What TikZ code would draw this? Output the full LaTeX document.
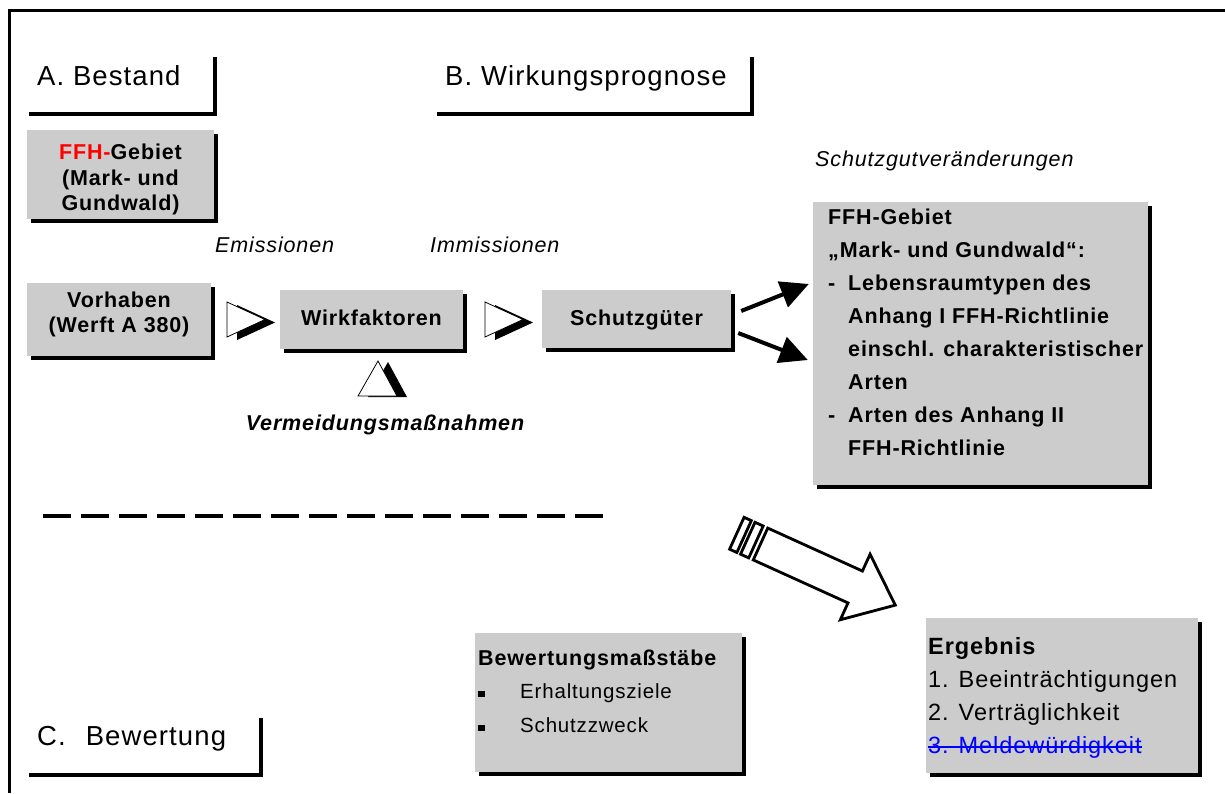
\documentclass[tikz,border=0pt]{standalone}
\usepackage{fontspec}
\setmainfont{Liberation Sans}[LetterSpace=4]
\usetikzlibrary{arrows.meta,shadows}
\definecolor{boxgray}{RGB}{204,204,204}
\definecolor{ffhred}{RGB}{255,0,0}
\definecolor{strikeblue}{RGB}{0,0,255}
\newcommand{\lstdash}{\makebox[20pt][l]{-}}
\newcommand{\lstind}{\hspace*{20pt}}
\newcommand{\sqbullet}{\makebox[42pt][l]{\rule[1pt]{6.5pt}{6.5pt}}}
\tikzset{
        box/.style={fill=boxgray, inner sep=0pt, drop shadow={fill=black, opacity=1, shadow xshift=4pt, shadow yshift=-4pt}},
        btxt/.style={font=\bfseries\fontsize{21.5}{25.5}\selectfont, inner sep=0pt, align=center},
        ltxt/.style={font=\bfseries\fontsize{21.5}{33}\selectfont, inner sep=0pt, align=left},
        rtxt/.style={font=\fontsize{20.5}{24}\selectfont, inner sep=0pt},
        etxt/.style={font=\fontsize{23.5}{26}\selectfont, inner sep=0pt},
        itxt/.style={font=\itshape\fontsize{21.5}{24}\selectfont, inner sep=0pt},
        htxt/.style={font=\fontsize{27.5}{30}\selectfont, inner sep=0pt, anchor=base west},
        hline/.style={line width=3.5pt},
        fatarrow/.style={line width=4pt, -{Triangle[length=28pt,width=27pt]}},
        dashline/.style={line width=4pt, dash pattern=on 28pt off 10pt}
    }
\newcommand{\openhead}[1]{%
  \fill[black] ([shift={(-9,-14.5)}]#1) -- ([shift={(29,3)}]#1) -- ([shift={(-9,20.5)}]#1) -- cycle;
  \filldraw[fill=white, draw=black, line width=0.8pt] ([shift={(-19,-17.5)}]#1) -- ([shift={(19,0)}]#1) -- ([shift={(-19,17.5)}]#1) -- cycle;}

\begin{document}
\begin{tikzpicture}[x=1pt,y=-1pt]
            \useasboundingbox (0,0) rectangle (1225,793);
            \draw[line width=3pt] (9,793) -- (9,10) -- (1225,10);

            % headings
            \node[htxt] (hA) at (37,85) {A. Bestand};
            \node[htxt] (hB) at (445,85) {B. Wirkungsprognose};
            \node[htxt] (hC) at (37,745) {C.\hspace{20pt}Bewertung};
            \draw[hline] (29,114) -| (215,57);
            \draw[hline] (437,114) -| (752,57);
            \draw[hline] (29,775) -| (261,718);

            % boxes
            \node[box, minimum width=187pt, minimum height=89pt] (ffh) at (120.5,174.5) {};
            \node[box, minimum width=184pt, minimum height=73pt] (vorhaben) at (119,319.5) {};
            \node[box, minimum width=183pt, minimum height=59pt] (wirk) at (371.5,319.5) {};
            \node[box, minimum width=189pt, minimum height=58pt] (sg) at (636.5,319) {};
            \node[box, minimum width=335pt, minimum height=283pt] (schutz) at (980.5,343.5) {};
            \node[box, minimum width=267pt, minimum height=139pt] (bewert) at (608.5,702.5) {};
            \node[box, minimum width=272pt, minimum height=155pt] (ergebnis) at (1062,695.5) {};

            \node[btxt, anchor=north] (ffhtxt) at (120.5,144) {\textcolor{ffhred}{FFH-}Gebiet\\(Mark- und\\Gundwald)};
            \node[btxt, anchor=north] (vortxt) at (119,291.5) {Vorhaben\\(Werft A 380)};
            \node[btxt, anchor=base] (wirktxt) at (371.5,325.5) {Wirkfaktoren};
            \node[btxt, anchor=base] (sgtxt) at (636.5,325.5) {Schutzgüter};
            \node[ltxt, anchor=north west] (schutztxt) at (828,209) {FFH-Gebiet\\„Mark- und Gundwald“:\\\lstdash Lebensraumtypen des\\\lstind Anhang I FFH-Richtlinie\\\lstind einschl. charakteristischer\\\lstind Arten\\\lstdash Arten des Anhang II\\\lstind FFH-Richtlinie};

            \node[btxt, anchor=base west] (bewhd) at (478,665) {Bewertungsmaßstäbe};
            \node[rtxt, anchor=base west] (bew1) at (478,698) {\sqbullet Erhaltungsziele};
            \node[rtxt, anchor=base west] (bew2) at (478,732) {\sqbullet Schutzzweck};

            \node[etxt, font=\bfseries\fontsize{23.5}{26}\selectfont, anchor=base west] (erg0) at (928,654) {Ergebnis};
            \node[etxt, anchor=base west] (erg1) at (928,687) {1. Beeinträchtigungen};
            \node[etxt, anchor=base west] (erg2) at (928,720) {2. Verträglichkeit};
            \node[etxt, text=strikeblue, anchor=base west] (erg3) at (928,753) {3. Meldewürdigkeit};
            \draw[strikeblue, line width=1.5pt] ([shift={(0,-6)}]erg3.base west) -- ([shift={(0,-6)}]erg3.base east);

            % labels
            \node[itxt, anchor=base west] (emis) at (215,252) {Emissionen};
            \node[itxt, anchor=base west] (immis) at (430,252) {Immissionen};
            \node[itxt, anchor=base west] (sgv) at (815,166) {Schutzgutveränderungen};
            \node[btxt, font=\bfseries\itshape\fontsize{21.5}{24}\selectfont, anchor=base] (verm) at (385,430) {Vermeidungsmaßnahmen};

            % open arrow heads
            \coordinate (h1) at (246,319.5);
            \coordinate (h2) at (504,319.5);
            \openhead{h1}
            \openhead{h2}
            \coordinate (vm) at (378,379);
            \fill[black] ([shift={(-10,18)}]vm) -- ([shift={(10,-17)}]vm) -- ([shift={(29,18)}]vm) -- cycle;
            \filldraw[fill=white, draw=black, line width=0.8pt] ([shift={(-20,17)}]vm) -- ([shift={(0,-18)}]vm) -- ([shift={(19,17)}]vm) -- cycle;

            \draw[fatarrow] ([shift={(10,-8)}]sg.east) -- ([shift={(-4,-59.5)}]schutz.west);
            \draw[fatarrow] ([shift={(7,14)}]sg.east) -- ([shift={(-5,16.5)}]schutz.west);

            % dashed separator
            \coordinate (dl1) at (43,516);
            \coordinate (dl2) at (605,516);
            \draw[dashline] (dl1) -- (dl2);

            % big arrow
            \begin{scope}[shift={(760.5,544)}, rotate=-24.4, line width=2.8pt]
                \draw[fill=white] (0,-17.5) -- (104,-17.5) -- (104,-36) -- (148,0) -- (104,36) -- (104,17.5) -- (0,17.5) -- cycle;
                \draw (-14,-17.5) rectangle (-5,17.5);
                \draw (-26,-17.5) rectangle (-18,17.5);
            \end{scope}
        \end{tikzpicture}
\end{document}
